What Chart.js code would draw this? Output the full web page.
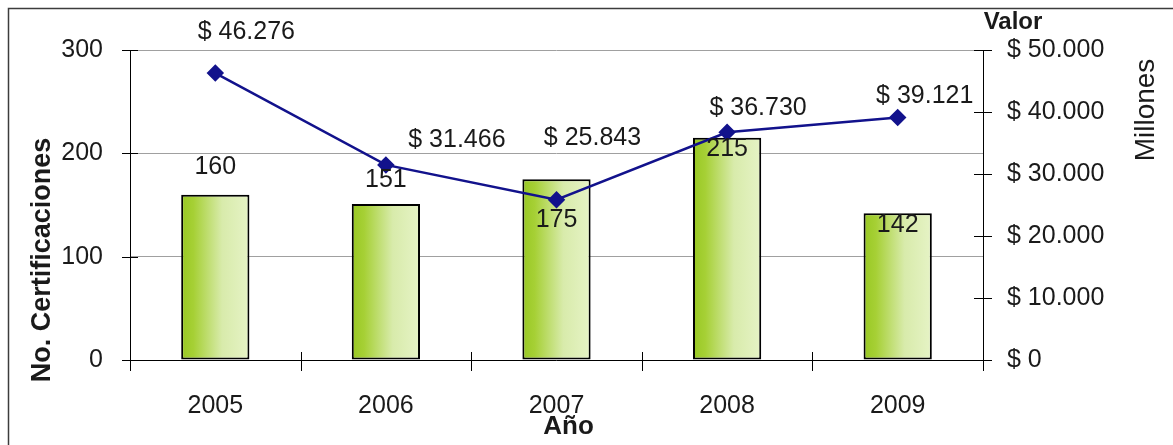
<!DOCTYPE html>
<html lang="es">
<head>
    <meta charset="UTF-8">
    <title>Certificaciones y Valor</title>
    <script src="https://cdn.jsdelivr.net/npm/chart.js"></script>
    <style>
        body {
            margin: 0;
            background-color: white;
        }
        #wrap {
            width: 1173px;
            height: 445px;
        }
    </style>
</head>
<body>
    <div id="wrap"><canvas id="chart"></canvas></div>

    <script>
        // chart data
        const years = ['2005', '2006', '2007', '2008', '2009'];
        const certificaciones = [160, 151, 175, 215, 142];
        const valorMillones = [46276, 31466, 25843, 36730, 39121];
        const leftAxis = { min: 0, max: 300, step: 100 };
        const rightAxis = { min: 0, max: 50000, step: 10000 };

        // manual label placement, like the original sheet (offset from the mark)
        const barLabelShift = [-28, -24, 41, 11, 12];
        const lineLabelShift = [[31, -41], [71, -25], [36, -62], [31, -24], [27, -21]];

        const FONT = '"Liberation Sans", Arial, sans-serif';
        const TEXT = '#1a1a1a';

        function pesos(v) {
            return '$ ' + String(Math.round(v)).replace(/\B(?=(\d{3})+(?!\d))/g, '.');
        }

        function barGradient(ctx) {
            const chart = ctx.chart;
            const xs = chart.scales.x;
            if (!xs || ctx.dataIndex === undefined) return '#b5d95a';
            const cx = xs.getPixelForValue(ctx.dataIndex);
            const half = (xs.width / years.length) * 0.4 / 2;
            if (!isFinite(cx) || !isFinite(half) || half <= 0) return '#b5d95a';
            const g = chart.ctx.createLinearGradient(cx - half, 0, cx + half, 0);
            g.addColorStop(0, '#98c823');
            g.addColorStop(0.18, '#a6d035');
            g.addColorStop(0.6, '#d8ebab');
            g.addColorStop(1, '#e6f3c6');
            return g;
        }

        function drawText(c, txt, x, y, font, rot) {
            c.save();
            c.translate(x, y);
            if (rot) c.rotate(rot);
            c.font = font;
            c.fillStyle = TEXT;
            c.textAlign = 'center';
            c.textBaseline = 'middle';
            c.fillText(txt, 0, 0);
            c.restore();
        }

        const decor = {
            id: 'decor',
            afterDatasetsDraw(chart) {
                const c = chart.ctx;
                const a = chart.chartArea;
                const y = chart.scales.y, y1 = chart.scales.y1;

                c.save();
                // frame (only left and top edges show in the picture)
                c.strokeStyle = '#3c3c3c';
                c.lineWidth = 1.5;
                c.beginPath();
                c.moveTo(8.5, chart.height);
                c.lineTo(8.5, 8.5);
                c.lineTo(chart.width, 8.5);
                c.stroke();

                // axis lines
                c.strokeStyle = '#000';
                c.lineWidth = 1;
                c.beginPath();
                c.moveTo(Math.round(a.left) + 0.5, a.top);
                c.lineTo(Math.round(a.left) + 0.5, a.bottom);
                c.moveTo(Math.round(a.right) + 0.5, a.top);
                c.lineTo(Math.round(a.right) + 0.5, a.bottom);
                c.moveTo(a.left, Math.round(a.bottom) + 0.5);
                c.lineTo(a.right, Math.round(a.bottom) + 0.5);

                // crossing tick marks
                y.ticks.forEach(t => {
                    const py = Math.round(y.getPixelForValue(t.value)) + 0.5;
                    c.moveTo(a.left - 8, py);
                    c.lineTo(a.left + 8, py);
                });
                y1.ticks.forEach(t => {
                    const py = Math.round(y1.getPixelForValue(t.value)) + 0.5;
                    c.moveTo(a.right - 9, py);
                    c.lineTo(a.right + 9, py);
                });
                const step = (a.right - a.left) / years.length;
                for (let i = 0; i <= years.length; i++) {
                    const px = Math.round(a.left + step * i) + 0.5;
                    c.moveTo(px, a.bottom - 8);
                    c.lineTo(px, a.bottom + 11);
                }
                c.stroke();
                c.restore();

                // bar value labels
                const bars = chart.getDatasetMeta(0).data;
                bars.forEach((b, i) => {
                    drawText(c, String(certificaciones[i]), b.x, b.y + barLabelShift[i], '25px ' + FONT);
                });
                // line value labels
                const pts = chart.getDatasetMeta(1).data;
                pts.forEach((p, i) => {
                    drawText(c, pesos(valorMillones[i]), p.x + lineLabelShift[i][0], p.y + lineLabelShift[i][1], '25px ' + FONT);
                });

                // axis titles
                drawText(c, 'No. Certificaciones', 43, a.bottom - 100, 'bold 27px ' + FONT, -Math.PI / 2);
                drawText(c, 'Año', (a.left + a.right) / 2 + 12, a.bottom + 67, 'bold 26px ' + FONT);
                drawText(c, 'Valor', a.right + 30, 22, 'bold 24px ' + FONT);
                drawText(c, 'Millones', 1146, a.top + 60, '28px ' + FONT, -Math.PI / 2);
            }
        };

        const ctx = document.getElementById('chart').getContext('2d');
        new Chart(ctx, {
            data: {
                labels: years,
                datasets: [{
                    type: 'bar',
                    label: 'No. Certificaciones',
                    data: certificaciones,
                    yAxisID: 'y',
                    backgroundColor: barGradient,
                    borderColor: '#000',
                    borderWidth: 2,
                    borderSkipped: false,
                    categoryPercentage: 1,
                    barPercentage: 0.4,
                    order: 2
                }, {
                    type: 'line',
                    label: 'Valor',
                    data: valorMillones,
                    yAxisID: 'y1',
                    borderColor: '#12128c',
                    borderWidth: 2.5,
                    backgroundColor: '#12128c',
                    pointStyle: 'rectRot',
                    pointRadius: 7,
                    pointBackgroundColor: '#12128c',
                    pointBorderColor: '#12128c',
                    tension: 0,
                    order: 1
                }]
            },
            options: {
                responsive: true,
                maintainAspectRatio: false,
                animation: false,
                layout: { padding: { top: 50, left: 0, right: 0, bottom: 0 } },
                plugins: {
                    legend: { display: false },
                    tooltip: { enabled: false }
                },
                scales: {
                    x: {
                        offset: true,
                        grid: { display: false, drawTicks: false },
                        border: { display: false },
                        ticks: { color: TEXT, font: { family: FONT, size: 25 }, padding: 31 },
                        afterFit: s => { s.height = 85; }
                    },
                    y: {
                        position: 'left',
                        min: leftAxis.min,
                        max: leftAxis.max,
                        grid: { color: '#a0a0a0', lineWidth: 1, drawTicks: false },
                        border: { display: false },
                        ticks: { stepSize: leftAxis.step, color: TEXT, font: { family: FONT, size: 25 }, padding: 27 },
                        afterFit: s => { s.width = 130; }
                    },
                    y1: {
                        position: 'right',
                        min: rightAxis.min,
                        max: rightAxis.max,
                        grid: { drawOnChartArea: false, drawTicks: false },
                        border: { display: false },
                        ticks: {
                            stepSize: rightAxis.step,
                            color: TEXT,
                            font: { family: FONT, size: 25 },
                            padding: 24,
                            callback: v => pesos(v)
                        },
                        afterFit: s => { s.width = 190; }
                    }
                }
            },
            plugins: [decor]
        });
    </script>
</body>
</html>
